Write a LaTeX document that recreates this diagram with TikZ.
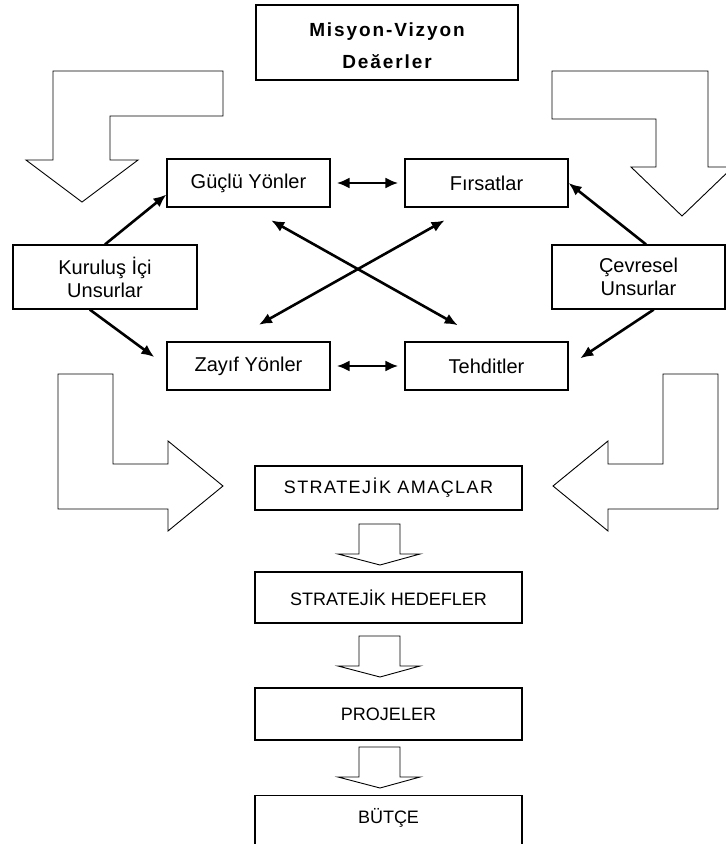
\documentclass[tikz,border=0pt]{standalone}
\usepackage{fontspec}
\setmainfont{Liberation Sans}
\newfontfamily\misyonfont[LetterSpace=10]{Liberation Sans}
\newfontfamily\widefont[LetterSpace=8]{Liberation Sans}
\usetikzlibrary{arrows.meta}

\begin{document}
\begin{tikzpicture}[x=1pt,y=-1pt]
			\tikzstyle{box} = [draw, line width=1.2pt, inner sep=0pt, align=center, font=\fontsize{20}{23}\selectfont]
			\tikzstyle{stepbox} = [draw, line width=1.2pt, inner sep=0pt, minimum width=267pt, font=\fontsize{18}{22}\selectfont]
			\tikzstyle{bigarrow} = [draw, line width=0.9pt]
			\tikzset{edge/.style = {line width=2.6pt, -{Latex[length=13pt,width=11pt]}}}
			\tikzset{both/.style = {line width=2.6pt, {Latex[length=13pt,width=11pt]}-{Latex[length=13pt,width=11pt]}}}
			
			\path[use as bounding box, fill=white] (0,0) rectangle (726,844);
			
			\node[box, minimum width=262pt, minimum height=75pt](misyon) at (387,42.5) {};
			\node[font=\misyonfont\bfseries\fontsize{19}{32}\selectfont, align=center](misyontext) at (387,46) {Misyon-Vizyon\\Deăerler};
			
			\node[box, minimum width=163pt, minimum height=48pt](guclu) at (248.5,183) {Güçlü Yönler};
			\node[box, minimum width=163pt, minimum height=48pt](firsat) at (486.5,183) {Fırsatlar};
			\node[box, minimum width=184pt, minimum height=64pt](kurulus) at (105,277) {Kuruluş İçi\\Unsurlar};
			\node[box, minimum width=173pt, minimum height=64pt](cevre) at (638.5,277) {Çevresel\\Unsurlar};
			\node[box, minimum width=163pt, minimum height=48pt](zayif) at (248.5,366) {Zayıf Yönler};
			\node[box, minimum width=163pt, minimum height=48pt](tehdit) at (486.5,366) {Tehditler};
			
			\draw[edge](kurulus.north) to (guclu.188);
			\draw[edge, shorten >=15pt](kurulus.245) to (zayif.west);
			\draw[edge](cevre.77) to (firsat.east);
			\draw[edge, shorten >=14pt](cevre.295) to (tehdit.east);
			\draw[both, shorten <=6pt, shorten >=6pt](guclu) to (firsat);
			\draw[both, shorten <=6pt, shorten >=6pt](zayif) to (tehdit);
			\draw[both, shorten <=26pt, shorten >=33pt](guclu.south) to (tehdit.north);
			\draw[both, shorten <=34pt, shorten >=26pt](zayif.128) to (firsat.232);
			
			\draw[bigarrow] (53,71) -- (223,71) -- (223,116) -- (110,116) -- (110,160) -- (138,160) -- (82,202) -- (26,160) -- (53,160) -- cycle;
			\draw[bigarrow] (552,71) -- (708,71) -- (708,167) -- (733,167) -- (682,216) -- (631,167) -- (656,167) -- (656,119) -- (552,119) -- cycle;
			\draw[bigarrow] (58,374) -- (113,374) -- (113,464) -- (168,464) -- (168,441) -- (223,486) -- (168,531) -- (168,509) -- (58,509) -- cycle;
			\draw[bigarrow] (718,374) -- (663,374) -- (663,464) -- (608,464) -- (608,441) -- (553,486) -- (608,531) -- (608,509) -- (718,509) -- cycle;
			
			\node[stepbox, minimum height=44pt, font=\widefont\fontsize{18}{22}\selectfont](amac) at (388.5,488) {STRATEJİK AMAÇLAR};
			\node[stepbox, minimum height=51pt](hedef) at (388.5,597.5) {STRATEJİK HEDEFLER};
			\node[stepbox, minimum height=52pt](proje) at (388.5,714) {PROJELER};
			\node[stepbox, anchor=north, text height=28pt, text depth=40pt](butce) at (388.5,795) {BÜTÇE};
			
			\foreach \y in {524,636,747}
			\draw[bigarrow] (359,\y) -- (400,\y) -- (400,\y+30) -- (420,\y+30) -- (380,\y+41) -- (338,\y+30) -- (359,\y+30) -- cycle;
			
\end{tikzpicture}
\end{document}
